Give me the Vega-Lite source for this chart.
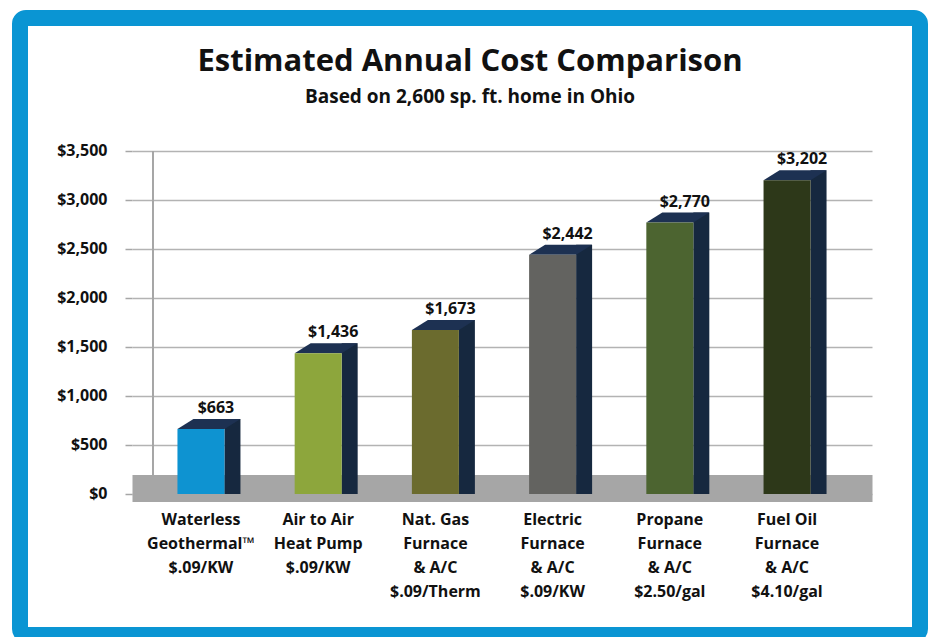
{
  "$schema": "https://vega.github.io/schema/vega-lite/v6.json",
  "autosize": {"type": "none"},
  "width": 900,
  "height": 617,
  "padding": {"left": 20, "top": 18, "right": 19, "bottom": 2},
  "background": "white",
  "config": {
    "view": {"stroke": "#0a95d3", "strokeWidth": 16, "cornerRadius": 6, "fill": "white"},
    "font": "Open Sans"
  },
  "title": {
    "text": "Estimated Annual Cost Comparison",
    "subtitle": "Based on 2,600 sp. ft. home in Ohio",
    "anchor": "middle",
    "orient": "top",
    "offset": -90,
    "font": "Open Sans",
    "fontSize": 31,
    "fontWeight": "bold",
    "color": "#111111",
    "subtitleFont": "Open Sans",
    "subtitleFontSize": 19,
    "subtitleFontWeight": "bold",
    "subtitleColor": "#111111",
    "subtitlePadding": 10
  },
  "data": {
    "values": [
      {"name": "Waterless Geothermal", "label": "Waterless|Geothermal™|$.09/KW", "cost": 663},
      {"name": "Air to Air Heat Pump", "label": "Air to Air|Heat Pump|$.09/KW", "cost": 1436},
      {"name": "Nat. Gas Furnace", "label": "Nat. Gas|Furnace|& A/C|$.09/Therm", "cost": 1673},
      {"name": "Electric Furnace", "label": "Electric|Furnace|& A/C|$.09/KW", "cost": 2442},
      {"name": "Propane Furnace", "label": "Propane|Furnace|& A/C|$2.50/gal", "cost": 2770},
      {"name": "Fuel Oil Furnace", "label": "Fuel Oil|Furnace|& A/C|$4.10/gal", "cost": 3202}
    ]
  },
  "encoding": {
    "x": {
      "field": "label",
      "type": "nominal",
      "sort": null,
      "scale": {"range": [112, 852], "paddingInner": 0.459, "paddingOuter": 0.386},
      "axis": {
        "orient": "bottom",
        "offset": -147,
        "title": null,
        "domain": true,
        "domainColor": "#a6a6a6",
        "domainWidth": 27,
        "ticks": false,
        "labelPadding": 23,
        "labelExpr": "split(datum.label, '|')",
        "labelLineHeight": 24,
        "labelOffset": -8,
        "labelAngle": 0,
        "labelBaseline": "top",
        "labelAlign": "center",
        "labelFont": "Open Sans",
        "labelFontSize": 16,
        "labelFontWeight": "bold",
        "labelColor": "#111111",
        "zindex": 0
      }
    },
    "y": {
      "field": "cost",
      "type": "quantitative",
      "scale": {"domain": [-1439, 4857], "nice": false, "zero": false},
      "axis": {
        "orient": "left",
        "offset": -112,
        "title": null,
        "values": [0, 500, 1000, 1500, 2000, 2500, 3000, 3500],
        "format": "$,.0f",
        "domain": false,
        "ticks": true,
        "tickSize": 7,
        "tickColor": "#a6a6a6",
        "tickWidth": 1.5,
        "grid": true,
        "gridColor": "#b3b3b3",
        "gridWidth": 1.5,
        "labelPadding": 18,
        "labelFont": "Open Sans",
        "labelFontSize": 16,
        "labelFontWeight": "bold",
        "labelColor": "#111111",
        "zindex": 0
      }
    }
  },
  "layer": [
    {
      "mark": {"type": "rule", "color": "#a6a6a6", "strokeWidth": 1.5},
      "encoding": {
        "x": {"datum": "Waterless|Geothermal™|$.09/KW", "bandPosition": -0.386},
        "y": {"datum": 0},
        "y2": {"datum": 3500}
      }
    },
    {
      "mark": {"type": "bar", "width": 16, "xOffset": 23.5, "yOffset": -10, "color": "#16283f"},
      "encoding": {"y2": {"datum": 0}}
    },
    {
      "mark": {"type": "point", "shape": "M-1,0 L-0.492,-0.317 L1,-0.317 L0.492,0 Z", "size": 3969, "filled": true, "opacity": 1, "color": "#1d3152", "strokeWidth": 0},
      "encoding": {}
    },
    {
      "mark": {"type": "bar", "width": 47, "xOffset": -8},
      "encoding": {
        "y2": {"datum": 0},
        "color": {
          "field": "label",
          "type": "nominal",
          "sort": null,
          "scale": {"range": ["#0e93d1", "#8da63c", "#6b6b2e", "#636360", "#4c6430", "#2d3819"]},
          "legend": null
        }
      }
    },
    {
      "mark": {"type": "text", "xOffset": 7, "yOffset": -21, "baseline": "middle", "font": "Open Sans", "fontSize": 16, "fontWeight": "bold", "color": "#111111"},
      "encoding": {"text": {"field": "cost", "type": "quantitative", "format": "$,.0f"}}
    }
  ]
}
